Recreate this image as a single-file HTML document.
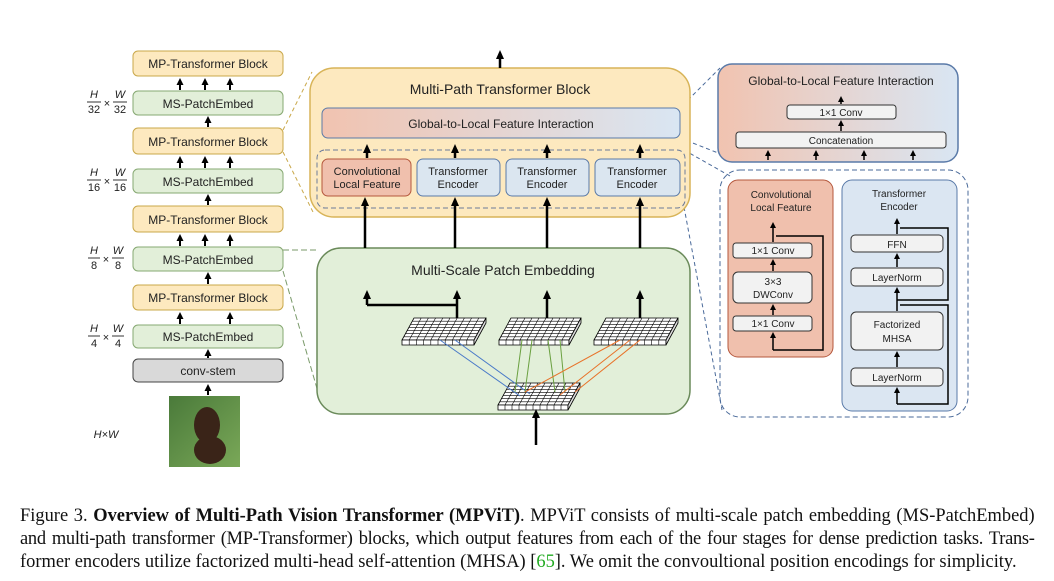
<!DOCTYPE html>
<html><head><meta charset="utf-8"><style>
body{margin:0;background:#fff;width:1054px;height:581px;overflow:hidden}
svg text{font-family:"Liberation Sans","DejaVu Sans",sans-serif;fill:#222}
.cap{position:absolute;left:20px;top:504px;width:1046px;transform:scaleX(0.97);transform-origin:0 0;font-family:"Liberation Serif",serif;font-size:19px;line-height:23px;color:#111}
.cap div{text-align:justify;text-align-last:justify;white-space:nowrap}
.cap div.l{text-align-last:left}
</style></head><body>
<svg id="s" width="1054" height="500" style="position:absolute;left:0;top:0" xmlns="http://www.w3.org/2000/svg">
<defs>
<linearGradient id="g" x1="0" x2="1"><stop offset="0" stop-color="#f1c3b0"/><stop offset="1" stop-color="#d9e6f3"/></linearGradient>
<linearGradient id="pg" x1="0" y1="0" x2="1" y2="1"><stop offset="0" stop-color="#4a7a3a"/><stop offset="1" stop-color="#7aa858"/></linearGradient>
</defs>
<g stroke="#c9a84a" stroke-dasharray="4,3" fill="none"><path d="M283,130L312,72M283,152L313,212"/></g>
<g stroke="#7a9a6a" stroke-dasharray="6,3" fill="none"><path d="M283,250L318,250M283,271L318,392"/></g>
<g stroke="#4a6a9a" stroke-dasharray="4,3" fill="none"><path d="M678,110L720,68M680,138L736,160M684,150L730,176M684,207L722,410"/></g>
<g font-size="12" text-anchor="middle">
<rect x="133" y="51" width="150" height="25" rx="5" fill="#fde9bf" stroke="#c9a84a"/><text x="208" y="68">MP-Transformer Block</text>
<rect x="133" y="91" width="150" height="24" rx="5" fill="#e2efd9" stroke="#86a872"/><text x="208" y="108">MS-PatchEmbed</text>
<rect x="133" y="128" width="150" height="26" rx="5" fill="#fde9bf" stroke="#c9a84a"/><text x="208" y="146">MP-Transformer Block</text>
<rect x="133" y="169" width="150" height="24" rx="5" fill="#e2efd9" stroke="#86a872"/><text x="208" y="186">MS-PatchEmbed</text>
<rect x="133" y="206" width="150" height="26" rx="5" fill="#fde9bf" stroke="#c9a84a"/><text x="208" y="224">MP-Transformer Block</text>
<rect x="133" y="247" width="150" height="24" rx="5" fill="#e2efd9" stroke="#86a872"/><text x="208" y="264">MS-PatchEmbed</text>
<rect x="133" y="285" width="150" height="25" rx="5" fill="#fde9bf" stroke="#c9a84a"/><text x="208" y="302">MP-Transformer Block</text>
<rect x="133" y="325" width="150" height="23" rx="5" fill="#e2efd9" stroke="#86a872"/><text x="208" y="341">MS-PatchEmbed</text>
<rect x="133" y="359" width="150" height="23" rx="5" fill="#d9d9d9" stroke="#444"/><text x="208" y="375">conv-stem</text>
</g>
<rect x="169" y="396" width="71" height="71" fill="url(#pg)"/>
<ellipse cx="207" cy="425" rx="13" ry="18" fill="#3a2418"/><ellipse cx="210" cy="450" rx="16" ry="14" fill="#3a2418"/>
<g font-family="Liberation Serif" font-style="italic" font-size="11" text-anchor="middle">
<text x="94" y="98">H</text><line x1="87" y1="102" x2="101" y2="102" stroke="#000" stroke-width=".8"/><text x="94" y="113" font-style="normal">32</text><text x="107" y="107" font-style="normal">×</text><text x="120" y="98">W</text><line x1="113" y1="102" x2="127" y2="102" stroke="#000" stroke-width=".8"/><text x="120" y="113" font-style="normal">32</text>
<text x="94" y="176">H</text><line x1="87" y1="180" x2="101" y2="180" stroke="#000" stroke-width=".8"/><text x="94" y="191" font-style="normal">16</text><text x="107" y="185" font-style="normal">×</text><text x="120" y="176">W</text><line x1="113" y1="180" x2="127" y2="180" stroke="#000" stroke-width=".8"/><text x="120" y="191" font-style="normal">16</text>
<text x="94" y="254">H</text><line x1="88" y1="258" x2="100" y2="258" stroke="#000" stroke-width=".8"/><text x="94" y="269" font-style="normal">8</text><text x="106" y="263" font-style="normal">×</text><text x="118" y="254">W</text><line x1="112" y1="258" x2="124" y2="258" stroke="#000" stroke-width=".8"/><text x="118" y="269" font-style="normal">8</text>
<text x="94" y="332">H</text><line x1="88" y1="336" x2="100" y2="336" stroke="#000" stroke-width=".8"/><text x="94" y="347" font-style="normal">4</text><text x="106" y="341" font-style="normal">×</text><text x="118" y="332">W</text><line x1="112" y1="336" x2="124" y2="336" stroke="#000" stroke-width=".8"/><text x="118" y="347" font-style="normal">4</text>
<text x="106" y="438">H×W</text>
</g>
<rect x="310" y="68" width="380" height="149" rx="24" fill="#fde9bf" stroke="#d8b458" stroke-width="1.5"/>
<text x="500" y="94" font-size="14" text-anchor="middle">Multi-Path Transformer Block</text>
<rect x="322" y="108" width="358" height="30" rx="6" fill="url(#g)" stroke="#5a7aa8"/>
<text x="501" y="128" font-size="12" text-anchor="middle">Global-to-Local Feature Interaction</text>
<rect x="317" y="150" width="368" height="58" rx="8" fill="none" stroke="#6a7a9a" stroke-dasharray="5,3"/>
<g font-size="11" text-anchor="middle">
<rect x="322" y="159" width="89" height="37" rx="6" fill="#f0c0ad" stroke="#b5573c"/><text x="367" y="175">Convolutional</text><text x="367" y="188">Local Feature</text>
<rect x="417" y="159" width="83" height="37" rx="6" fill="#dbe6f0" stroke="#5a7aa8"/><text x="458" y="175">Transformer</text><text x="458" y="188">Encoder</text>
<rect x="506" y="159" width="83" height="37" rx="6" fill="#dbe6f0" stroke="#5a7aa8"/><text x="547" y="175">Transformer</text><text x="547" y="188">Encoder</text>
<rect x="595" y="159" width="85" height="37" rx="6" fill="#dbe6f0" stroke="#5a7aa8"/><text x="637" y="175">Transformer</text><text x="637" y="188">Encoder</text>
</g>
<rect x="317" y="248" width="373" height="166" rx="24" fill="#e2efd9" stroke="#6a8a5a" stroke-width="1.5"/>
<text x="503" y="275" font-size="14" text-anchor="middle">Multi-Scale Patch Embedding</text>
<g stroke="#000" stroke-width="2.5" fill="none"><path d="M367,305H457"/></g>
<g id="grids"></g>
<g stroke-width="1" fill="none">
<path d="M440,340L520,396M455,340L530,394" stroke="#4a7ac8"/>
<path d="M522,340L515,392M532,340L525,392M548,340L555,392M560,340L565,392" stroke="#6aa040"/>
<path d="M620,340L525,392M630,340L560,395M640,340L575,392" stroke="#e8732a"/>
</g>
<rect x="718" y="64" width="240" height="98" rx="14" fill="url(#g)" stroke="#5a7aa8" stroke-width="1.5"/>
<text x="841" y="85" font-size="12" text-anchor="middle">Global-to-Local Feature Interaction</text>
<rect x="787" y="105" width="109" height="14" rx="3" fill="#f2f2f2" stroke="#333"/><text x="841" y="116" font-size="10" text-anchor="middle">1×1 Conv</text>
<rect x="736" y="132" width="210" height="16" rx="3" fill="#f2f2f2" stroke="#333"/><text x="841" y="144" font-size="10" text-anchor="middle">Concatenation</text>
<rect x="720" y="170" width="248" height="247" rx="20" fill="none" stroke="#4a6a9a" stroke-dasharray="5,3"/>
<rect x="728" y="180" width="105" height="177" rx="10" fill="#f0c0ad" stroke="#b5573c"/>
<g font-size="10" text-anchor="middle">
<text x="781" y="198">Convolutional</text><text x="781" y="211">Local Feature</text>
<rect x="733" y="243" width="79" height="15" rx="3" fill="#f2f2f2" stroke="#333"/><text x="773" y="254">1×1 Conv</text>
<rect x="733" y="272" width="79" height="31" rx="5" fill="#f2f2f2" stroke="#333"/><text x="773" y="285">3×3</text><text x="773" y="298">DWConv</text>
<rect x="733" y="316" width="79" height="15" rx="3" fill="#f2f2f2" stroke="#333"/><text x="773" y="327">1×1 Conv</text>
</g>
<rect x="842" y="180" width="115" height="231" rx="10" fill="#dbe6f2" stroke="#5a7aa8"/>
<g font-size="10" text-anchor="middle">
<text x="899" y="197">Transformer</text><text x="899" y="210">Encoder</text>
<rect x="851" y="235" width="92" height="17" rx="4" fill="#f2f2f2" stroke="#333"/><text x="897" y="248">FFN</text>
<rect x="851" y="268" width="92" height="18" rx="4" fill="#f2f2f2" stroke="#333"/><text x="897" y="281">LayerNorm</text>
<rect x="851" y="312" width="92" height="38" rx="5" fill="#f2f2f2" stroke="#333"/><text x="897" y="328">Factorized</text><text x="897" y="342">MHSA</text>
<rect x="851" y="368" width="92" height="18" rx="4" fill="#f2f2f2" stroke="#333"/><text x="897" y="381">LayerNorm</text>
</g>
<g stroke="#000" stroke-width="1.5" fill="none">
<path d="M773,350H823V236H776"/><path d="M897,404H948V305H900"/><path d="M897,300H948V228H900"/>
</g>
<g id="arrows"></g>
</svg>
<div class="cap">
<div>Figure 3. <b>Overview of Multi-Path Vision Transformer (MPViT)</b>. MPViT consists of multi-scale patch embedding (MS-PatchEmbed)</div>
<div style="letter-spacing:-0.3px">and multi-path transformer (MP-Transformer) blocks, which output features from each of the four stages for dense prediction tasks. Trans-</div>
<div class="l">former encoders utilize factorized multi-head self-attention (MHSA) [<span style="color:#2a2">65</span>]. We omit the convoultional position encodings for simplicity.</div>
</div>
<script>
var G=document.getElementById("grids");
function grid(x,y,w,h,sk){var d="";var t='<polygon points="'+(x+sk)+','+y+' '+(x+w+sk)+','+y+' '+(x+w)+','+(y+h)+' '+x+','+(y+h)+'" fill="#fff" stroke="#000" stroke-width=".8"/>';
t+='<polygon points="'+x+','+(y+h)+' '+(x+w)+','+(y+h)+' '+(x+w)+','+(y+h+5)+' '+x+','+(y+h+5)+'" fill="#fff" stroke="#000" stroke-width=".8"/>';
t+='<polygon points="'+(x+w)+','+(y+h)+' '+(x+w+sk)+','+y+' '+(x+w+sk)+','+(y+5)+' '+(x+w)+','+(y+h+5)+'" fill="#ddd" stroke="#000" stroke-width=".8"/>';
for(var i=1;i<10;i++){var f=i/10;d+="M"+(x+sk+w*f)+","+y+"L"+(x+w*f)+","+(y+h)+"M"+(x+w*f)+","+(y+h)+"V"+(y+h+5);}
for(var j=1;j<7;j++){var f=j/7;d+="M"+(x+sk*(1-f))+","+(y+h*f)+"h"+w;}
t+='<path d="'+d+'" stroke="#000" stroke-width=".6" fill="none"/>';G.innerHTML+=t;}
grid(402,318,72,22,12);grid(499,318,70,22,12);grid(594,318,72,22,12);grid(498,383,70,22,12);
var A=document.getElementById("arrows"),s="";
function ar(x,y1,y2,w,hw,hl){s+='<line x1="'+x+'" y1="'+y1+'" x2="'+x+'" y2="'+(y2+hl-1)+'" stroke="#000" stroke-width="'+w+'"/>';
s+='<polygon points="'+(x-hw)+','+(y2+hl)+' '+(x+hw)+','+(y2+hl)+' '+x+','+y2+'" fill="#000"/>';}
[[180,90,78],[205,90,78],[230,90,78],[208,127,116],[180,168,156],[205,168,156],[230,168,156],[208,205,194],[180,246,234],[205,246,234],[230,246,234],[208,284,272],[180,324,312],[230,324,312],[208,358,349],[208,395,384]].forEach(function(a){ar(a[0],a[1],a[2],2,3.5,7)});
[[500,68,50],[367,158,144],[455,158,144],[547,158,144],[640,158,144],[365,248,197],[455,248,197],[547,248,197],[640,248,197],[536,445,409],[367,305,290],[457,318,290],[547,318,290],[640,318,290]].forEach(function(a){ar(a[0],a[1],a[2],2.5,4,9)});
[[841,104,96],[841,131,120],[768,160,150],[816,160,150],[864,160,150],[913,160,150],[773,350,332],[773,315,304],[773,271,259],[773,242,222],[897,404,387],[897,367,351],[897,311,287],[897,267,253],[897,234,218]].forEach(function(a){ar(a[0],a[1],a[2],1.5,3,6)});
A.innerHTML=s;
</script>
</body></html>
